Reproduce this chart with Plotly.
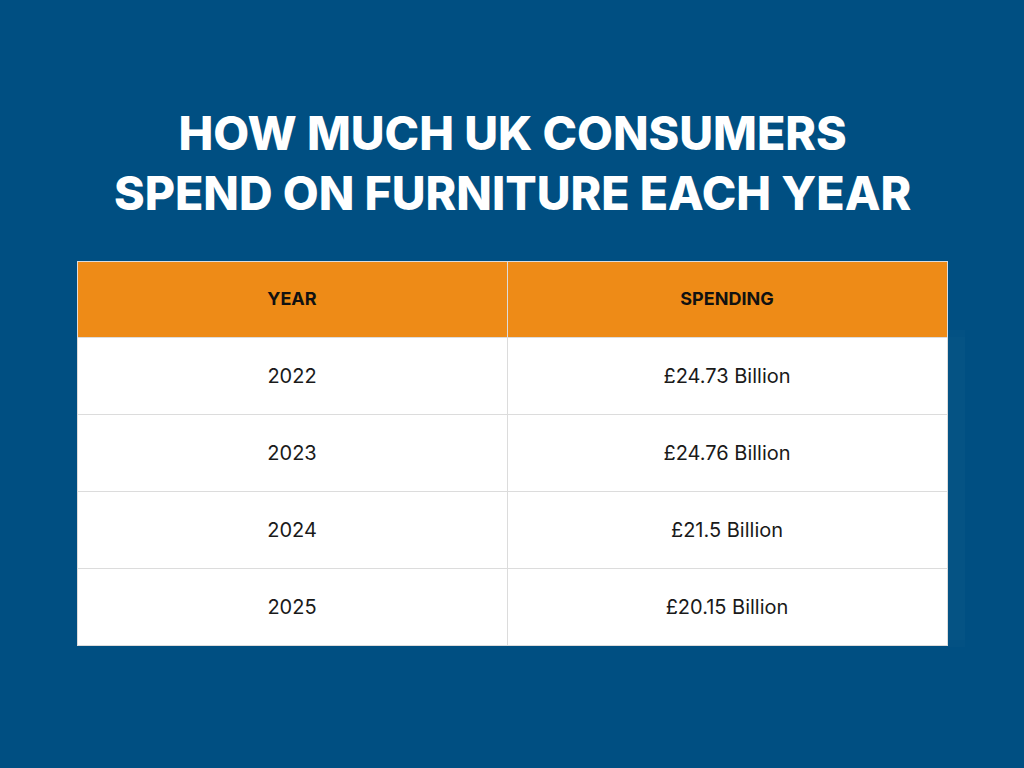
import plotly.graph_objects as go

# Table content
years = ["2022", "2023", "2024", "2025"]
spending = ["£24.73 Billion", "£24.76 Billion", "£21.5 Billion", "£20.15 Billion"]
headers = ["YEAR", "SPENDING"]

bg = "#004F82"
orange = "#EE8B17"
grid = "#DCDCDC"
clear = "rgba(0,0,0,0)"

# a blank first line pushes text down toward the vertical middle of each cell
pad = "\u00a0<br>"
x_dom = [77 / 1024, 947 / 1024]

# table 1: coloured cells and grid lines, no text
frame = go.Table(
    domain=dict(x=x_dom, y=[1 - 647 / 768, 1 - 261 / 768]),
    columnwidth=[430, 440],
    header=dict(values=["", ""], fill_color=orange,
                line=dict(color=grid, width=1), height=76),
    cells=dict(values=[[""] * len(years), [""] * len(spending)],
               fill_color="white", line=dict(color=grid, width=1), height=77),
)

# table 2: transparent, carries the text, nudged up a few pixels to centre it
text = go.Table(
    domain=dict(x=x_dom, y=[1 - 640 / 768, 1 - 257 / 768]),
    columnwidth=[430, 440],
    header=dict(
        values=[pad + f"<b>{h}</b>" for h in headers],
        fill_color=clear, line=dict(color=clear, width=0),
        align="center", height=73,
        font=dict(family="Inter", size=18, color="#111111"),
    ),
    cells=dict(
        values=[[pad + y for y in years], [pad + s for s in spending]],
        fill_color=clear, line=dict(color=clear, width=0),
        align="center", height=77,
        font=dict(family="Inter", size=20, color="#1a1a1a"),
    ),
)

fig = go.Figure([frame, text])

fig.add_annotation(
    text="HOW MUCH UK CONSUMERS<br>SPEND ON FURNITURE EACH YEAR",
    x=0.5, y=1 - 163 / 768, xref="paper", yref="paper",
    xanchor="center", yanchor="middle", showarrow=False,
    font=dict(family="Inter", size=46.5, color="white", weight=800),
)

fig.update_layout(
    width=1024, height=768,
    margin=dict(l=0, r=0, t=0, b=0),
    paper_bgcolor=bg,
    plot_bgcolor=bg,
)

fig.write_html("out.html", config={"displayModeBar": False},
               post_script="document.body.style.margin='0';")
